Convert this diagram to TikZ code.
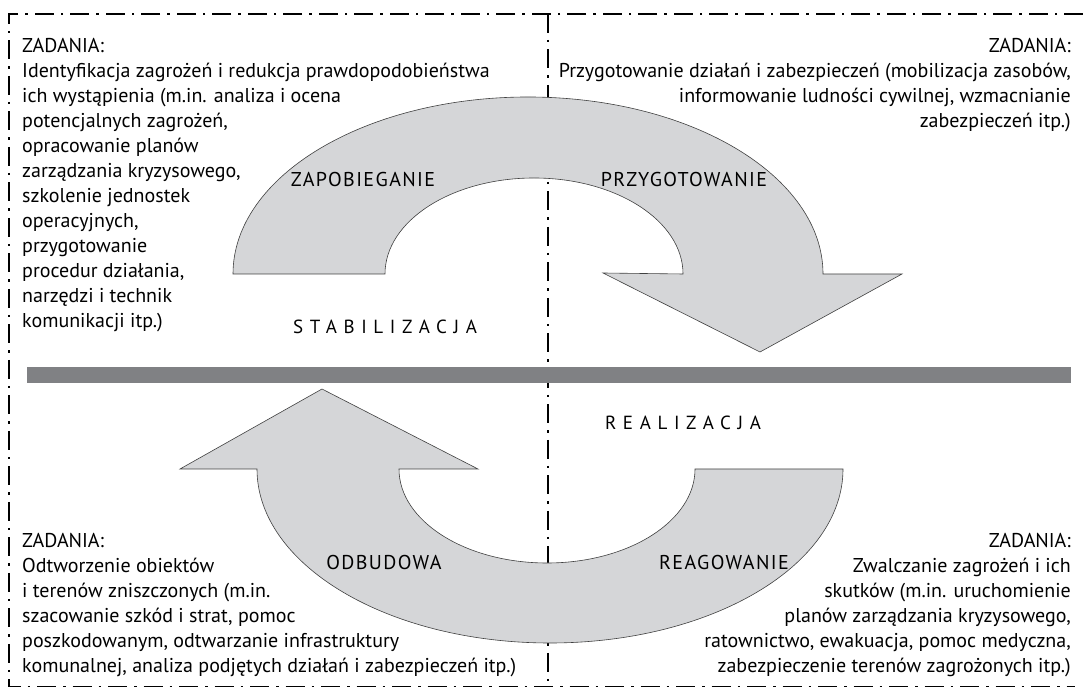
\documentclass[tikz,border=0pt]{standalone}
\usepackage{fontspec}
\setmainfont{PT Sans}
\usepackage{tikz}
\definecolor{arrowgray}{RGB}{213,214,216}
\definecolor{bargray}{RGB}{128,129,132}
\tikzset{
	frame line/.style = 
    {
			line width = 2.5pt,
			dash pattern = on 19pt off 7pt on 2.5pt off 7pt
    },
	phase arrow/.style = 
    {
			fill = arrowgray,
			draw = black!75,
			line width = 0.6pt
    }
}

\begin{document}
\begin{tikzpicture}[x = 1pt, y = 1pt]
        \tikzset{task text/.style={inner sep=0pt, font=\fontsize{20}{25}\selectfont}}
        \tikzset{phase name/.style={inner sep=0pt, font=\fontsize{20}{25}\selectfont\addfontfeature{LetterSpace=7}}}
        \tikzset{stage name/.style={inner sep=0pt, font=\fontsize{19}{22}\selectfont\addfontfeature{LetterSpace=35}}}
        \useasboundingbox (0,0) rectangle (1083,687);

        % Frame
        \draw [frame line] (1083,673) -- (9,673) -- (9,0) -- (1075,0);
        \draw [frame line] (548,673) -- (548,0);
        \fill [bargray] (27,304) rectangle (1071,320);

        % Arrows
        \draw [phase arrow] (233,413) -- (385,413)
            arc [start angle=180, end angle=0, x radius=149pt, y radius=96pt]
            -- (603,414) -- (760,335) -- (902,413) -- (823,413)
            arc [start angle=0, end angle=180, x radius=295pt, y radius=177pt] -- cycle;
        \draw [phase arrow] (843,218) -- (695,218)
            arc [start angle=0, end angle=-180, x radius=148pt, y radius=94pt]
            -- (478,218) -- (322,298) -- (180,218) -- (257,218)
            arc [start angle=180, end angle=360, x radius=293pt, y radius=174pt] -- cycle;

        % Nodes
        \node (zapobieganie) [phase name] at (363,507) {ZAPOBIEGANIE};
        \node (przygotowanie) [phase name] at (684,507) {PRZYGOTOWANIE};
        \node (odbudowa) [phase name] at (384,124) {ODBUDOWA};
        \node (reagowanie) [phase name] at (724,124) {REAGOWANIE};
        \node (stabilizacja) [stage name] at (385,360) {STABILIZACJA};
        \node (realizacja) [stage name] at (683,264) {REALIZACJA};

        \node (zadania_zap) [task text, anchor=north west, align=left] at (22,649)
            {ZADANIA:\\
             Identyfikacja zagrożeń i redukcja prawdopodobieństwa\\
             ich wystąpienia (m.in. analiza i ocena\\
             potencjalnych zagrożeń,\\
             opracowanie planów\\
             zarządzania kryzysowego,\\
             szkolenie jednostek\\
             operacyjnych,\\
             przygotowanie\\
             procedur działania,\\
             narzędzi i technik\\
             komunikacji itp.)};
        \node (zadania_prz) [task text, anchor=north east, align=right] at (1071,649)
            {ZADANIA:\\
             Przygotowanie działań i zabezpieczeń (mobilizacja zasobów,\\
             informowanie ludności cywilnej, wzmacnianie\\
             zabezpieczeń itp.)};
        \node (zadania_odb) [task text, anchor=north west, align=left] at (22,154)
            {ZADANIA:\\
             Odtworzenie obiektów\\
             i terenów zniszczonych (m.in.\\
             szacowanie szkód i strat, pomoc\\
             poszkodowanym, odtwarzanie infrastruktury\\
             komunalnej, analiza podjętych działań i zabezpieczeń itp.)};
        \node (zadania_rea) [task text, anchor=north east, align=right] at (1071,154)
            {ZADANIA:\\
             Zwalczanie zagrożeń i ich\\
             skutków (m.in. uruchomienie\\
             planów zarządzania kryzysowego,\\
             ratownictwo, ewakuacja, pomoc medyczna,\\
             zabezpieczenie terenów zagrożonych itp.)};
\end{tikzpicture}
\end{document}
